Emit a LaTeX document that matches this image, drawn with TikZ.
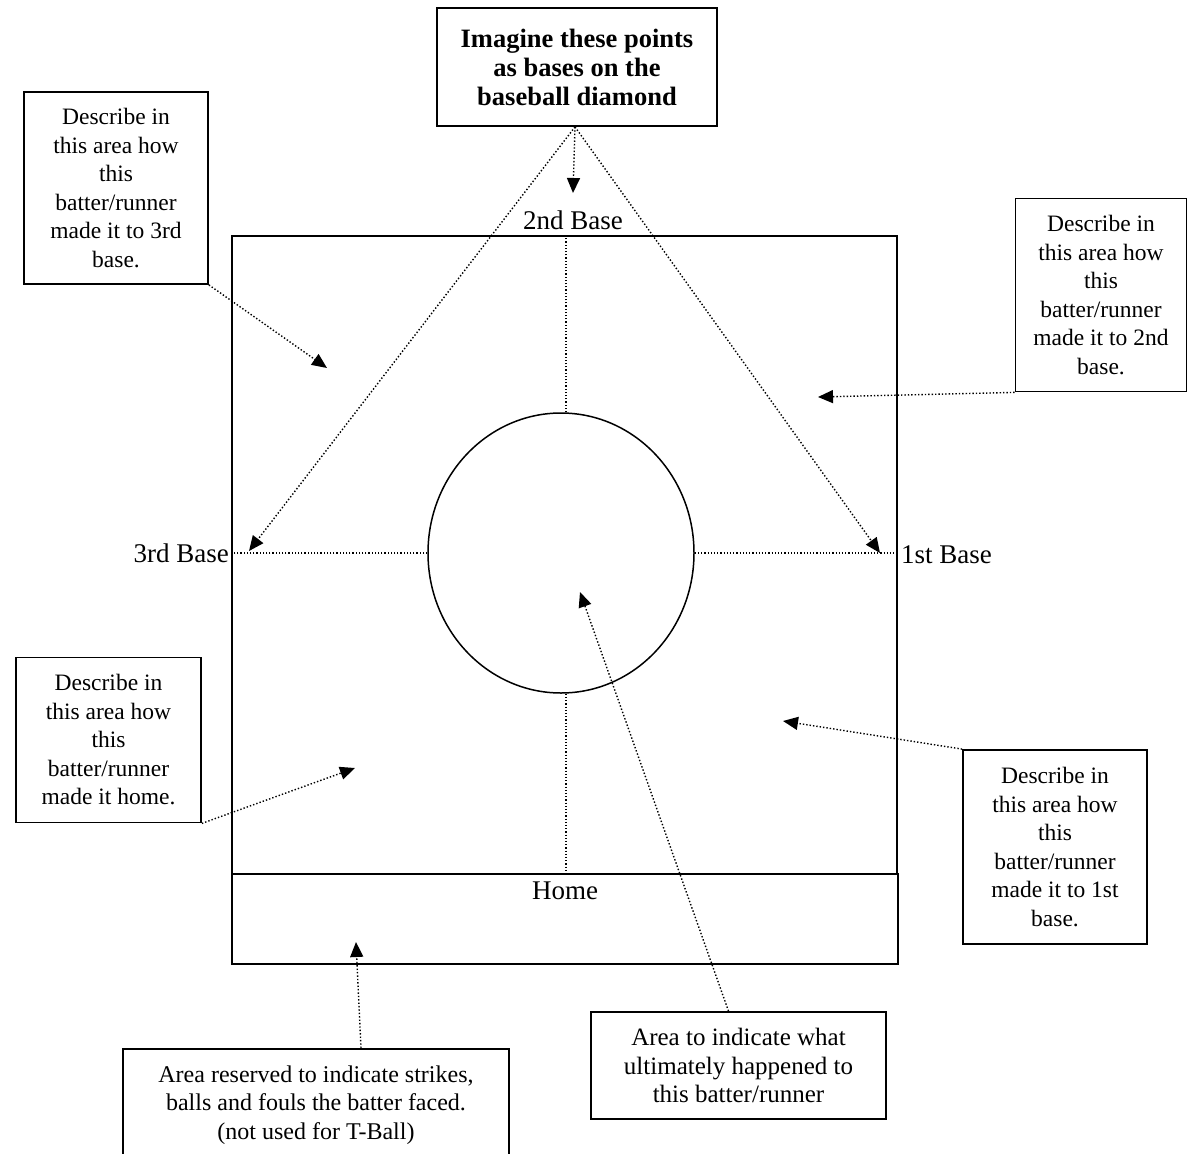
\documentclass[tikz,border=0pt]{standalone}
\usepackage{fontspec}
\setmainfont{Liberation Serif}
\usetikzlibrary{arrows.meta,shapes,positioning,calc}

\begin{document}
\begin{tikzpicture}[x=1pt,y=-1pt,
  every node/.style={font=\fontsize{27}{28.5}\selectfont},
  note/.style={draw,line width=1.8,align=center,inner sep=0pt,font=\fontsize{23.5}{28.5}\selectfont},
  hint/.style={dotted,line width=1.4,-{Triangle[length=15pt,width=13pt]}},
  guide/.style={dotted,line width=1.2}]
\useasboundingbox (0,0) rectangle (1187,1154);
\path (564.5,555) node(field)[draw,line width=1.8,minimum width=665,minimum height=638] {};
\path (565,919) node(plate)[draw,line width=1.8,minimum width=666,minimum height=90] {};
\path (561,553) node(mound)[draw,ellipse,line width=1.5,minimum width=266,minimum height=280,inner sep=0pt] {};
\path (565,891) node(home) {Home};
\path (573,220) node(second) {2nd Base};
\path (229,553) node(third)[anchor=east,inner sep=0pt] {3rd Base};
\path (901,555) node(first)[anchor=west,inner sep=0pt] {1st Base};
\path (577,67) node(bases)[note,minimum width=280,minimum height=118,font=\fontsize{26.5}{29}\selectfont\bfseries] {Imagine these points\\as bases on the\\baseball diamond};
\path (116,188) node(to3rd)[note,minimum width=184,minimum height=192] {Describe in\\this area how\\this\\batter/runner\\made it to 3rd\\base.};
\path (1101,295) node(to2nd)[note,minimum width=171,minimum height=193] {Describe in\\this area how\\this\\batter/runner\\made it to 2nd\\base.};
\path (108.5,740) node(tohome)[note,minimum width=185,minimum height=165] {Describe in\\this area how\\this\\batter/runner\\made it home.};
\path (1055,847) node(to1st)[note,minimum width=184,minimum height=194] {Describe in\\this area how\\this\\batter/runner\\made it to 1st\\base.};
\path (738.5,1065.5) node(outcome)[note,minimum width=295,minimum height=107,font=\fontsize{25}{28.5}\selectfont] {Area to indicate what\\ultimately happened to\\this batter/runner};
\path (316,1105) node(count)[note,minimum width=386,minimum height=112,font=\fontsize{24}{28.5}\selectfont] {Area reserved to indicate strikes,\\balls and fouls the batter faced.\\(not used for T-Ball)};
\coordinate (tip2nd) at (573,193);
\coordinate (tip3rd) at (249,551);
\coordinate (tip1st) at (880,553);
\coordinate (inner3rd) at (327,368);
\coordinate (inner2nd) at (818,397);
\coordinate (innerhome) at (355,768);
\coordinate (inner1st) at (783,721);
\coordinate (innerout) at (580,592);
\coordinate (innercount) at (356,942);
\draw[guide] ([xshift=5]mound.north) -- ([xshift=5]mound.north |- field.north);
\draw[guide] ([xshift=5]mound.south) -- ([xshift=5]mound.south |- field.south);
\draw[guide] (mound.west) -- (mound.west -| field.west);
\draw[guide] (mound.east) -- (mound.east -| field.east);
\draw[hint] ([xshift=-2]bases.south) -- (tip2nd);
\draw[hint] ([xshift=-2]bases.south) -- (tip3rd);
\draw[hint] ([xshift=-2]bases.south) -- (tip1st);
\draw[hint] (to3rd.south east) -- (inner3rd);
\draw[hint] (to2nd.south west) -- (inner2nd);
\draw[hint] (tohome.south east) -- (innerhome);
\draw[hint] (to1st.north west) -- (inner1st);
\draw[hint] ([xshift=-10]outcome.north) -- (innerout);
\draw[hint] ([xshift=45]count.north) -- (innercount);
\end{tikzpicture}
\end{document}
